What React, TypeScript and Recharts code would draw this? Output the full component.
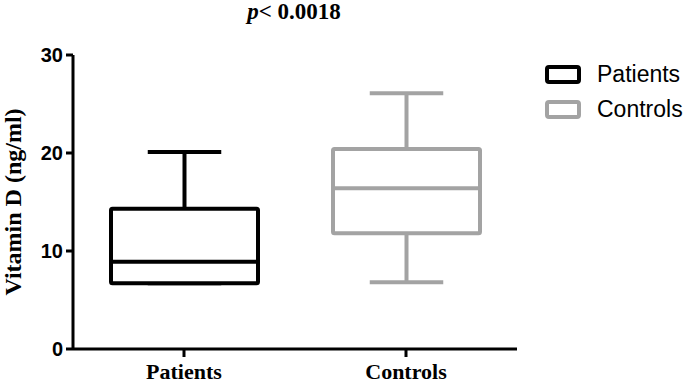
import { ComposedChart, Bar, XAxis, YAxis } from "recharts";

const categories = ["Patients", "Controls"];
const mins = [6.7, 6.8];
const q1s = [6.7, 11.8];
const medians = [8.9, 16.4];
const q3s = [14.3, 20.4];
const maxs = [20.1, 26.1];
const colors = ["#000000", "#a3a3a3"];
const yTicks = [0, 10, 20, 30];

const data = categories.map((name, i) => ({
  name,
  range: [mins[i], maxs[i]],
  min: mins[i],
  q1: q1s[i],
  median: medians[i],
  q3: q3s[i],
  max: maxs[i],
  color: colors[i],
}));

// box drawn inside the [min, max] range bar, positions mapped linearly
function BoxShape(props: any) {
  const { x, y, width, height, payload } = props;
  const top = Math.min(y, y + height);
  const h = Math.abs(height);
  const { min, max, q1, median, q3, color } = payload;
  const toY = (v: number) => top + (h * (max - v)) / (max - min);
  const cx = x + width / 2;
  const cap = width / 4;
  const sw = 4;
  return (
    <g stroke={color} strokeWidth={sw} fill="none" strokeLinecap="butt">
      <line x1={cx} x2={cx} y1={toY(max)} y2={toY(q3)} />
      <line x1={cx - cap} x2={cx + cap} y1={toY(max)} y2={toY(max)} />
      <line x1={cx} x2={cx} y1={toY(q1)} y2={toY(min)} />
      <line x1={cx - cap} x2={cx + cap} y1={toY(min)} y2={toY(min)} />
      <rect
        x={x}
        y={toY(q3)}
        width={width}
        height={toY(q1) - toY(q3)}
        rx={1.5}
        fill="#fff"
        strokeLinejoin="round"
      />
      <line x1={x} x2={x + width} y1={toY(median)} y2={toY(median)} />
    </g>
  );
}

const serif = "'Liberation Serif', 'Times New Roman', serif";
const sans = "'Liberation Sans', Arial, sans-serif";

export default function App() {
  return (
    <div style={{ position: "absolute", left: 0, top: 0, width: 685, height: 383, background: "#fff" }}>
      <ComposedChart
        width={685}
        height={383}
        data={data}
        margin={{ top: 55, right: 168, bottom: 0, left: 0 }}
      >
        <XAxis
          dataKey="name"
          height={34}
          interval={0}
          axisLine={{ stroke: "#000", strokeWidth: 3 }}
          tickLine={{ stroke: "#000", strokeWidth: 3 }}
          tickSize={8}
          tickMargin={6}
          tick={{ fill: "#000", fontSize: 22, fontWeight: "bold", fontFamily: serif }}
        />
        <YAxis
          width={73}
          domain={[0, 30]}
          ticks={yTicks}
          axisLine={{ stroke: "#000", strokeWidth: 3 }}
          tickLine={{ stroke: "#000", strokeWidth: 3 }}
          tickSize={7}
          tickMargin={3}
          tick={{ fill: "#000", fontSize: 20, fontWeight: "bold", fontFamily: sans }}
          label={{
            content: (p: any) => {
              const vb = p.viewBox;
              const cy = vb.y + vb.height / 2;
              return (
                <text
                  x={13}
                  y={cy}
                  transform={`rotate(-90, 13, ${cy})`}
                  textAnchor="middle"
                  dominantBaseline="central"
                  fontFamily={serif}
                  fontWeight="bold"
                  fontSize={24}
                  fill="#000"
                >
                  Vitamin D (ng/ml)
                </text>
              );
            },
          }}
        />
        <Bar dataKey="range" barSize={147} shape={BoxShape} isAnimationActive={false} />
      </ComposedChart>
      <svg
        width={685}
        height={383}
        style={{ position: "absolute", left: 0, top: 0, pointerEvents: "none" }}
      >
        <text x={294} y={19} textAnchor="middle" fontFamily={serif} fontWeight="bold" fontSize={23} fill="#000">
          <tspan fontStyle="italic">p</tspan>
          <tspan>{"< 0.0018"}</tspan>
        </text>
        {categories.map((c, i) => (
          <g key={c}>
            <rect
              x={547}
              y={67 + i * 35}
              width={32}
              height={15}
              rx={2}
              fill="#fff"
              stroke={colors[i]}
              strokeWidth={4}
            />
            <text
              x={597}
              y={74 + i * 35}
              dominantBaseline="central"
              fontFamily={sans}
              fontSize={23}
              fill="#000"
            >
              {c}
            </text>
          </g>
        ))}
      </svg>
    </div>
  );
}
